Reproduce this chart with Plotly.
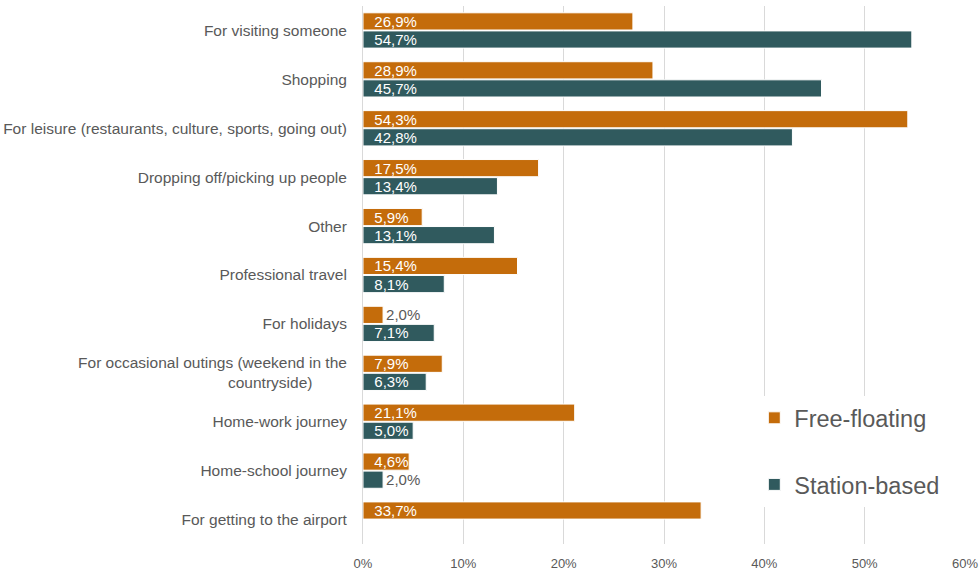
import plotly.graph_objects as go

categories = [
    "For visiting someone",
    "Shopping",
    "For leisure (restaurants, culture, sports, going out)",
    "Dropping off/picking up people",
    "Other",
    "Professional travel",
    "For holidays",
    "For occasional outings (weekend in the<br>countryside)" + "\u00a0" * 8,
    "Home-work journey",
    "Home-school journey",
    "For getting to the airport",
]
free_floating = [26.9, 28.9, 54.3, 17.5, 5.9, 15.4, 2.0, 7.9, 21.1, 4.6, 33.7]
station_based = [54.7, 45.7, 42.8, 13.4, 13.1, 8.1, 7.1, 6.3, 5.0, 2.0, None]
x_ticks = [0, 10, 20, 30, 40, 50, 60]

ORANGE = "#C46C0B"
TEAL = "#305A5E"
GRAY = "#595959"
FONT = "Liberation Sans"


def is_small(v):
    return v is not None and v < 3


def fmt(v):
    if v is None:
        return ""
    s = f"{v:.1f}".replace(".", ",") + "%"
    return s if is_small(v) else "\u00a0\u00a0" + s


def positions(vals):
    return ["outside" if is_small(v) else "inside" for v in vals]


def text_colors(vals):
    return [GRAY if is_small(v) else "white" for v in vals]


fig = go.Figure()
for name, vals, color, grp in [
    ("Free-floating", free_floating, ORANGE, "a"),
    ("Station-based", station_based, TEAL, "b"),
]:
    fig.add_trace(go.Bar(
        name=name,
        y=list(range(len(categories))),
        x=vals,
        orientation="h",
        marker=dict(color=color, line=dict(color="white", width=1)),
        text=[fmt(v) for v in vals],
        textposition=positions(vals),
        insidetextanchor="start",
        constraintext="none",
        cliponaxis=False,
        textfont=dict(family=FONT, size=15, color=text_colors(vals)),
        legendgroup=grp,
    ))

fig.update_layout(
    width=980,
    height=575,
    margin=dict(l=363, r=15, t=6, b=31),
    paper_bgcolor="white",
    plot_bgcolor="white",
    barmode="group",
    bargap=0.26,
    bargroupgap=0.05,
    font=dict(family=FONT, color=GRAY, size=15),
    showlegend=True,
    legend=dict(
        x=0.65, y=0.275, xanchor="left", yanchor="top",
        bgcolor="white",
        font=dict(size=23.5, color=GRAY),
        tracegroupgap=33,
        traceorder="grouped",
        itemwidth=30,
    ),
    xaxis=dict(
        range=[0, 60],
        tickvals=x_ticks,
        ticktext=[f"{t}%" for t in x_ticks],
        showgrid=True,
        gridcolor="#D9D9D9",
        gridwidth=1,
        zeroline=False,
        showline=False,
        ticks="",
        ticklabelstandoff=10,
        tickfont=dict(size=13, color=GRAY),
        fixedrange=True,
        automargin=False,
    ),
    yaxis=dict(
        tickvals=list(range(len(categories))),
        ticktext=categories,
        range=[len(categories) - 0.5, -0.5],
        showline=True,
        linecolor="#D9D9D9",
        linewidth=1,
        showgrid=False,
        zeroline=False,
        ticks="",
        ticklabelstandoff=12,
        tickfont=dict(size=15.5, color=GRAY),
        automargin=False,
    ),
)

fig.write_html("out.html")
